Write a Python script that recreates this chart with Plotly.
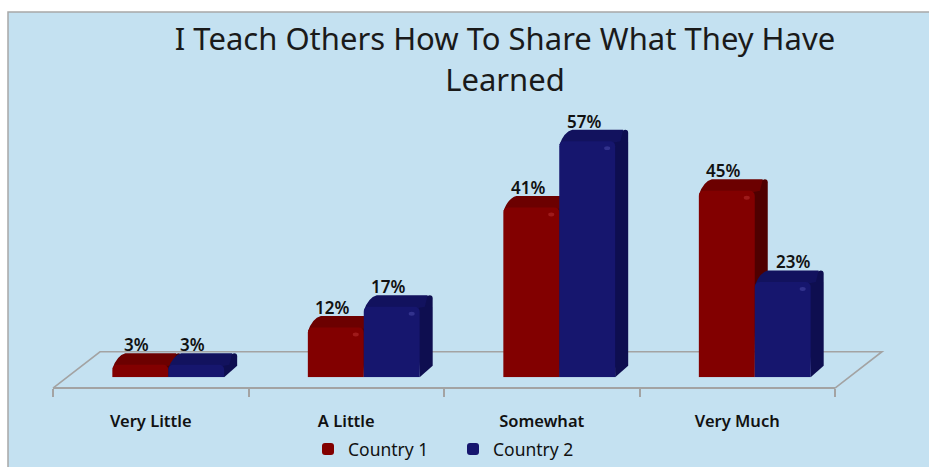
import plotly.graph_objects as go

categories = ["Very Little", "A Little", "Somewhat", "Very Much"]
country_1 = [3, 12, 41, 45]
country_2 = [3, 17, 57, 23]
series_names = ["Country 1", "Country 2"]
title_text = "I Teach Others How To Share What They Have<br>Learned"

W, H = 929, 467
PX_PER_UNIT = 4.15
PX_PER_CAT = 195.5
BAR_W = 0.286
DX = 13 / PX_PER_CAT
DY = 11.5 / PX_PER_UNIT
FONT = "Noto Sans"
INK = "#111111"
GRID = "#a3a3a3"

RED = dict(front="#820000", top="#6c0000", side="#4f0000", spot="#b83030")
BLUE = dict(front="#16166e", top="#12125e", side="#0e0e50", spot="#4a4aa8")


def px(x):
    return x / W


def py(y):
    return 1 - y / H


def side_path(x1, v):
    r = min(3 / PX_PER_UNIT, v / 4)
    rx = 3 / PX_PER_CAT
    return (
        f"M{x1},0 L{x1 + DX},{DY} "
        f"L{x1 + DX},{v + DY - r} Q{x1 + DX},{v + DY} {x1 + DX - rx},{v + DY} "
        f"L{x1 - rx},{v + DY - 1} L{x1 - rx},{v} Z"
    )


def top_path(x0, x1, v):
    rx = 5 / PX_PER_CAT
    r = min(2 / PX_PER_UNIT, v / 4)
    return (
        f"M{x0},{v - 2 * r} Q{x0 + DX * 0.35},{v + DY * 0.8} {x0 + DX},{v + DY} "
        f"L{x1 + DX - rx},{v + DY} L{x1 + DX * 0.4},{v} L{x1 - rx},{v - r} L{x0 + rx},{v - r} Z"
    )


shapes = [
    dict(type="rect", xref="paper", yref="paper", x0=px(8), x1=1.01, y0=-0.01, y1=py(12),
         fillcolor="#c4e1f1", line=dict(color="#a8a8a8", width=1.5), layer="below"),
    dict(type="path", xref="paper", yref="paper",
         path=f"M{px(53)},{py(389)} L{px(100)},{py(352.5)} L{px(882)},{py(352.5)} L{px(835)},{py(389)}",
         line=dict(color=GRID, width=1.6), layer="below"),
]
for values, offset, colors in ((country_1, -BAR_W, RED), (country_2, 0, BLUE)):
    for i, v in enumerate(values):
        x0 = i + offset
        x1 = x0 + BAR_W
        shapes.append(dict(type="path", xref="x", yref="y", path=side_path(x1, v),
                           fillcolor=colors["side"], line_width=0, layer="below"))
        shapes.append(dict(type="path", xref="x", yref="y", path=top_path(x0, x1, v),
                           fillcolor=colors["top"], line_width=0, layer="below"))
        if v > 5:
            shapes.append(dict(type="circle", xref="x", yref="y", layer="above",
                               x0=x1 - 11 / PX_PER_CAT, x1=x1 - 5 / PX_PER_CAT,
                               y0=v - 9 / PX_PER_UNIT, y1=v - 5 / PX_PER_UNIT,
                               fillcolor=colors["spot"], opacity=0.55, line_width=0))

# per-label horizontal nudges, as the reference sets them beside the bars
nudges = {(1, 3): 10}
annotations = []
for s, (values, offset) in enumerate(((country_1, -BAR_W / 2), (country_2, BAR_W / 2))):
    for i, v in enumerate(values):
        annotations.append(dict(x=i + offset, y=v, xref="x", yref="y", text=f"{v}%",
                                showarrow=False, yanchor="bottom", xshift=nudges.get((s, i), -3.5),
                                yshift=6.5,
                                font=dict(family=FONT, size=17, color=INK, weight=600)))

fig = go.Figure()
fig.add_trace(go.Bar(name=series_names[0], x=categories, y=country_1, width=BAR_W, offset=-BAR_W,
                     marker=dict(color=RED["front"], cornerradius=5, line_width=0)))
fig.add_trace(go.Bar(name=series_names[1], x=categories, y=country_2, width=BAR_W, offset=0,
                     marker=dict(color=BLUE["front"], cornerradius=5, line_width=0)))
fig.add_trace(go.Scatter(x=categories, y=[None] * 4, xaxis="x2", yaxis="y2", showlegend=False,
                         hoverinfo="skip"))

fig.update_layout(
    width=W, height=H, margin=dict(l=0, r=0, t=0, b=0),
    paper_bgcolor="white", plot_bgcolor="rgba(0,0,0,0)",
    barmode="overlay", shapes=shapes, annotations=annotations,
    title=dict(text=title_text, x=505 / W, xanchor="center", xref="paper", y=py(50.5), yref="paper",
               yanchor="top", font=dict(family=FONT, size=31, color="#1a1a1a")),
    xaxis=dict(domain=[px(70.5), px(852.5)], range=[-0.5, 3.5], visible=False,
               type="category", categoryorder="array", categoryarray=categories),
    yaxis=dict(domain=[py(378), py(129)], range=[0, 60], visible=False),
    xaxis2=dict(domain=[px(53), px(835)], range=[-0.5, 3.5], type="category",
                categoryorder="array", categoryarray=categories,
                anchor="free", position=py(389), showline=True,
                linecolor=GRID, linewidth=2, showgrid=False, zeroline=False,
                ticks="outside", tickson="boundaries", ticklen=8, tickcolor=GRID, tickwidth=1.6,
                ticklabelstandoff=18,
                tickfont=dict(family=FONT, size=16.5, color=INK, weight=600)),
    yaxis2=dict(domain=[py(378), py(129)], visible=False, range=[0, 60]),
    legend=dict(orientation="h", x=px(308), xanchor="left", y=py(450), yanchor="middle",
                bgcolor="rgba(0,0,0,0)", entrywidth=100, entrywidthmode="pixels",
                font=dict(family=FONT, size=17.5, color=INK), traceorder="normal"),
    showlegend=True,
)

fig.write_html("out.html", config={"displayModeBar": False},
               post_script="document.body.style.margin='0';")
